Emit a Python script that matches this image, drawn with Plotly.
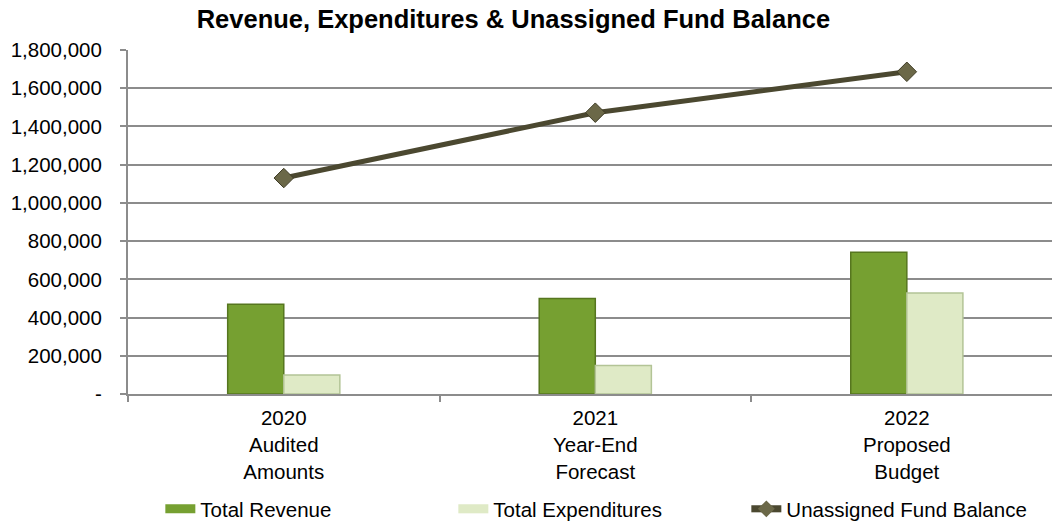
import plotly.graph_objects as go

# Fiscal-year categories and their two-line descriptions
years = ["2020", "2021", "2022"]
stages = ["Audited<br>Amounts", "Year-End<br>Forecast", "Proposed<br>Budget"]

# Series values
total_revenue = [470000, 500000, 742000]
total_expenditures = [99000, 149000, 529000]
unassigned_fund_balance = [1130000, 1472000, 1686000]

# Y-axis ticks
y_tick_values = [0, 200000, 400000, 600000, 800000, 1000000, 1200000, 1400000, 1600000, 1800000]
y_tick_labels = ["-", "200,000", "400,000", "600,000", "800,000", "1,000,000",
                 "1,200,000", "1,400,000", "1,600,000", "1,800,000"]

categories = [f"{y}<br>{s}" for y, s in zip(years, stages)]

FONT = "Liberation Sans, Arial, sans-serif"
GRID = "#8c8c8c"
REV_FILL = "#76a031"
REV_EDGE = "#56761f"
EXP_FILL = "#dfeac6"
EXP_EDGE = "#b3c496"
LINE_COLOR = "#4b4830"
TEXT_SIZE = 20.5

fig = go.Figure()

fig.add_trace(go.Bar(
    x=categories, y=total_revenue, name="Total Revenue",
    marker=dict(color=REV_FILL, line=dict(color=REV_EDGE, width=1.5)),
    showlegend=False,
))
fig.add_trace(go.Bar(
    x=categories, y=total_expenditures, name="Total Expenditures",
    marker=dict(color=EXP_FILL, line=dict(color=EXP_EDGE, width=1.5)),
    showlegend=False,
))
fig.add_trace(go.Scatter(
    x=categories, y=unassigned_fund_balance, name="Unassigned Fund Balance",
    mode="lines+markers",
    line=dict(color=LINE_COLOR, width=5),
    marker=dict(symbol="diamond", size=15, color="#6b6848",
                line=dict(color="#3e3b25", width=1)),
    showlegend=False,
))

# Legend entries drawn as wide flat swatches
fig.add_trace(go.Scatter(x=[None], y=[None], name="Total Revenue", mode="lines",
                         line=dict(color=REV_FILL, width=9)))
fig.add_trace(go.Scatter(x=[None], y=[None], name="Total Expenditures", mode="lines",
                         line=dict(color=EXP_FILL, width=9)))
fig.add_trace(go.Scatter(x=[None], y=[None], name="Unassigned Fund Balance",
                         mode="lines+markers",
                         line=dict(color=LINE_COLOR, width=7),
                         marker=dict(symbol="diamond", size=13, color="#6b6848")))

fig.update_layout(
    width=1052, height=529,
    margin=dict(l=128, r=0, t=50, b=133),
    paper_bgcolor="white", plot_bgcolor="white",
    font=dict(family=FONT, size=TEXT_SIZE, color="#000000"),
    title=dict(
        text="<b>Revenue, Expenditures &amp; Unassigned Fund Balance</b>",
        x=0.488, xanchor="center", y=0.964, yanchor="middle",
        font=dict(family=FONT, size=25.5, color="#000000"),
    ),
    barmode="group", bargap=0.64, bargroupgap=0,
    legend=dict(
        orientation="h", x=0.035, xanchor="left", y=-0.335, yanchor="middle",
        font=dict(family=FONT, size=TEXT_SIZE, color="#000000"),
        entrywidth=248, entrywidthmode="pixels", traceorder="normal",
        bgcolor="rgba(0,0,0,0)",
    ),
    xaxis=dict(
        type="category", range=[-0.5, 2.466],
        showgrid=False, showline=True, linecolor=GRID, linewidth=1.5,
        ticks="outside", tickson="boundaries", ticklen=6, tickcolor=GRID, tickwidth=1.5,
        ticklabelstandoff=5,
        tickfont=dict(family=FONT, size=TEXT_SIZE, color="#000000"),
    ),
    yaxis=dict(
        range=[0, 1800000], tickvals=y_tick_values, ticktext=y_tick_labels,
        showgrid=True, gridcolor=GRID, gridwidth=1.5,
        showline=True, linecolor=GRID, linewidth=2,
        ticks="outside", ticklen=6, tickcolor=GRID, tickwidth=1.5,
        ticklabelstandoff=14,
        tickfont=dict(family=FONT, size=TEXT_SIZE, color="#000000"),
        zeroline=False,
    ),
)

fig.write_html("out.html")
